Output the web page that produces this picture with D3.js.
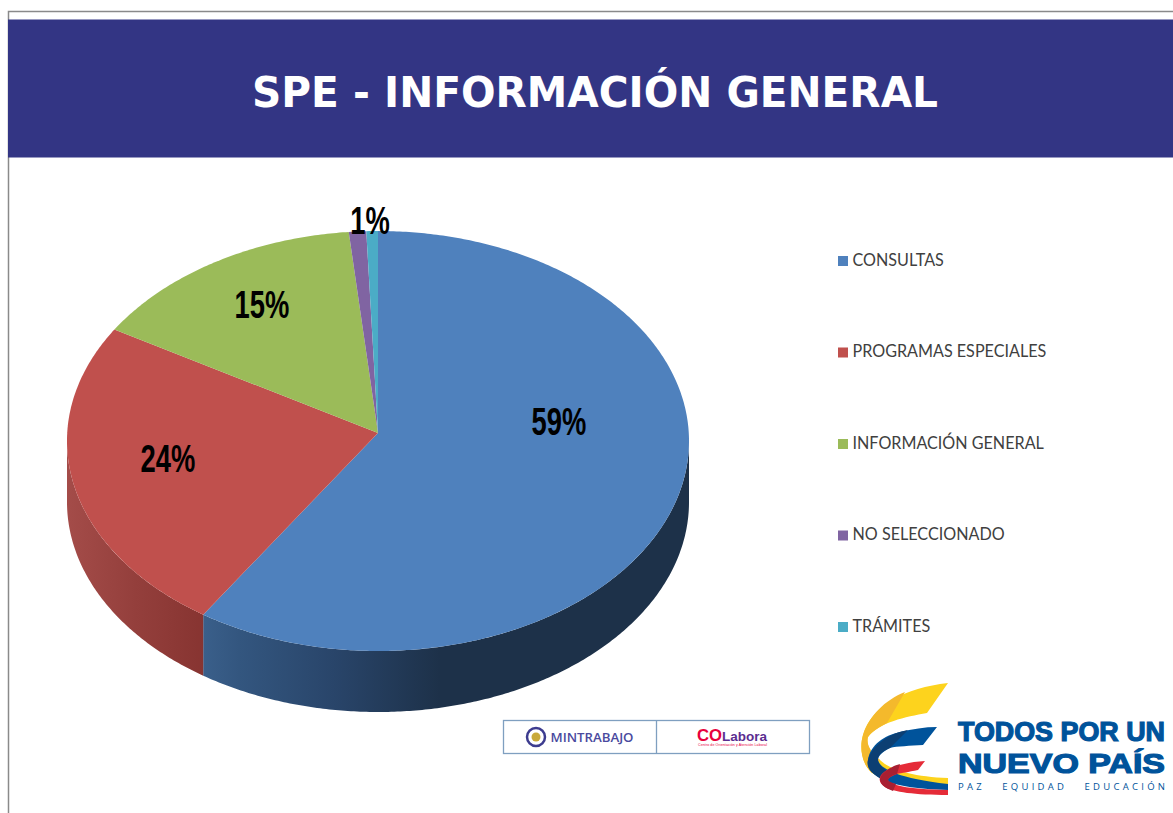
<!DOCTYPE html>
<html><head><meta charset="utf-8">
<script src="https://cdn.jsdelivr.net/npm/d3@7"></script>
<style>html,body{margin:0;padding:0;background:#fff}svg{display:block}</style>
</head><body><svg id="c" width="1173" height="813"></svg>
<script>
const titleText = "SPE - INFORMACIÓN GENERAL";
const categories = ["CONSULTAS","PROGRAMAS ESPECIALES","INFORMACIÓN GENERAL","NO SELECCIONADO","TRÁMITES"];
const values = [59.5,24.4,14.6,0.9,0.6];
const labels = ["59%","24%","15%","1%",""];
const colors = ["#4f81bd","#c0504d","#9bbb59","#8064a2","#4bacc6"];

const svg = d3.select("#c");
const defs = svg.append("defs");
const cx=378, cy=441, rx=311, ry=210, depth=61, apexY=433;

// frame and banner
svg.append("path").attr("d","M8.5,813V11.5H1173").attr("fill","none").attr("stroke","#8a8a8a").attr("stroke-width",1.5);
svg.append("rect").attr("x",8).attr("y",19.5).attr("width",1165).attr("height",138).attr("fill","#333584");
svg.append("text").text(titleText).attr("x",252).attr("y",107)
  .attr("font-family","'DejaVu Sans'").attr("font-weight",700).attr("font-size",43.5).attr("fill","#fff")
  .attr("textLength",686).attr("lengthAdjust","spacingAndGlyphs");

// pie
const pie = d3.pie().value(d=>d).sort(null);
const arcs = pie(values);
const px = a=>cx+rx*Math.sin(a), py=a=>cy-ry*Math.cos(a);
function rim(p,a0,a1,off=0,move=false){
  const n=Math.max(2,Math.ceil(Math.abs(a1-a0)/0.01));
  for(let i=0;i<=n;i++){
    const a=a0+(a1-a0)*i/n;
    if(i===0&&move)p.moveTo(px(a),py(a)+off); else p.lineTo(px(a),py(a)+off);
  }
}
const wallStyles=[
  {id:"w0",x1:204,x2:440,stops:[[0,"#3a5f8a"],[0.15,"#33567f"],[0.55,"#29456a"],[1,"#1d3149"]]},
  {id:"w1",x1:67,x2:204,stops:[[0,"#a44c49"],[0.5,"#943f3c"],[1,"#873431"]]}
];
wallStyles.forEach(w=>{
  const g=defs.append("linearGradient").attr("id",w.id).attr("gradientUnits","userSpaceOnUse")
    .attr("x1",w.x1).attr("x2",w.x2).attr("y1",0).attr("y2",0);
  w.stops.forEach(s=>g.append("stop").attr("offset",s[0]).attr("stop-color",s[1]));
});
arcs.slice(0,2).forEach((d,i)=>{
  const a0=Math.max(d.startAngle,Math.PI/2), a1=Math.min(d.endAngle,Math.PI*3/2);
  if(a1<=a0) return;
  const p=d3.path();
  rim(p,a0,a1,0,true);
  rim(p,a1,a0,depth,false);
  p.closePath();
  svg.append("path").attr("d",p.toString()).attr("fill",`url(#w${i})`);
});
svg.append("g").selectAll("path").data(arcs).join("path")
  .attr("d",d=>{const p=d3.path();p.moveTo(cx,apexY);rim(p,d.startAngle,d.endAngle);p.closePath();return p.toString();})
  .attr("fill",(d,i)=>colors[i]);

// data labels
const labelPos=[[559,422],[168,459],[262,305],[370,221]];
labels.forEach((t,i)=>{ if(!t) return;
  svg.append("text").text(t)
   .attr("transform",`translate(${labelPos[i][0]},${labelPos[i][1]}) scale(0.72,1)`).attr("dy","0.35em")
   .attr("text-anchor","middle").attr("font-family","'Liberation Sans'")
   .attr("font-weight",700).attr("font-size",38).attr("fill","#000");
});

// legend
const ly=d3.scalePoint().domain(categories).range([260,626]);
const lg=svg.append("g").selectAll("g").data(categories).join("g").attr("transform",d=>`translate(838,${ly(d)})`);
lg.append("rect").attr("x",0).attr("y",-4).attr("width",10).attr("height",10).attr("fill",(d,i)=>colors[i]);
lg.append("text").text(d=>d).attr("transform","translate(14.5,5.5) scale(0.95,1)").attr("font-family","Lato").attr("font-size",17).attr("fill","#404040");

// MINTRABAJO / COLabora box
const b=svg.append("g");
b.append("rect").attr("x",503.5).attr("y",720.5).attr("width",306).attr("height",33).attr("fill","#fff").attr("stroke","#7f9fc0").attr("stroke-width",1.3);
b.append("line").attr("x1",656.5).attr("x2",656.5).attr("y1",720.5).attr("y2",753.5).attr("stroke","#7f9fc0").attr("stroke-width",1.3);
b.append("circle").attr("cx",536).attr("cy",737).attr("r",9).attr("fill","#fff").attr("stroke","#3d3c8f").attr("stroke-width",2.5);
b.append("circle").attr("cx",536).attr("cy",737).attr("r",4.5).attr("fill","#c9a93a");
b.append("text").text("MINTRABAJO").attr("x",550.5).attr("y",742).attr("font-family","'Open Sans'").attr("font-size",13).attr("fill","#4a4a9e").attr("font-weight",600).attr("textLength",83).attr("lengthAdjust","spacingAndGlyphs");
b.append("text").text("CO").attr("x",697).attr("y",741).attr("font-family","'Liberation Sans'").attr("font-weight",700).attr("font-size",16).attr("fill","#e8003d").attr("textLength",25).attr("lengthAdjust","spacingAndGlyphs");
b.append("text").text("Labora").attr("x",722).attr("y",741).attr("font-family","'Liberation Sans'").attr("font-weight",700).attr("font-size",13).attr("fill","#5b2d90").attr("textLength",45).attr("lengthAdjust","spacingAndGlyphs");
b.append("text").text("Centro de Orientación y Atención Laboral").attr("x",698).attr("y",745.5).attr("font-family","'Liberation Sans'").attr("font-size",3.6).attr("fill","#e8003d").attr("textLength",69);

// TODOS POR UN NUEVO PAÍS logo
const l=svg.append("g");
const ribbons=[
 ["#fdd31d","M948,683 L927,713 C905,717 880,722 868,737 C866,744 870,752 880,760 C890,770 915,777 948,778 L948,786 C915,785 885,782 872,773 C860,762 860,745 863,735 C872,705 905,688 948,683Z"],
 ["#f4b92c","M905,692 C885,700 869,716 863,735 C860,745 860,762 872,773 L880,760 C870,752 866,744 868,737 C872,731 880,727 887,723Z"],
 ["#00539b","M937,727 L923,745 C910,746 897,746 890,748 C882,752 878,756 878,760 C880,768 895,778 948,784 L948,790 C915,789 893,785 883,780 C872,774 866,768 868,760 C870,745 885,735 900,732 C912,729 925,727 937,727Z"],
 ["#0c3f73","M908,730 C890,733 872,745 868,760 C866,768 872,774 883,780 L888,772 C880,766 877,762 878,758 C880,753 885,750 890,748Z"],
 ["#e52b38","M925,761 L918,770 C908,772 902,773 897,774 C892,776 888,778 888,780 C890,785 905,789 948,790 L948,795 C915,795 893,792 885,787 C878,782 878,777 884,772 C892,766 908,762 925,761Z"],
 ["#a81f32","M900,764 C892,766 880,773 880,780 C881,785 885,788 893,791 L896,784 C890,782 888,781 888,780 C889,777 893,775 897,774Z"]
];
l.selectAll("path").data(ribbons).join("path").attr("fill",d=>d[0]).attr("d",d=>d[1]);
const lt=[["TODOS POR UN",958,741,27],["NUEVO PAÍS",958,773,28]];
lt.forEach(t=>l.append("text").text(t[0]).attr("x",t[1]).attr("y",t[2]).attr("font-family","'Liberation Sans'").attr("font-weight",700).attr("font-size",t[3]).attr("fill","#00539b").attr("stroke","#00539b").attr("stroke-width",1.2).attr("textLength",207).attr("lengthAdjust","spacingAndGlyphs"));
l.append("text").text("PAZ   EQUIDAD   EDUCACIÓN").attr("x",958).attr("y",790).style("white-space","pre").attr("font-family","'Open Sans'").attr("font-size",9.5).attr("fill","#00539b").attr("textLength",207).attr("lengthAdjust","spacing");
</script></body></html>
